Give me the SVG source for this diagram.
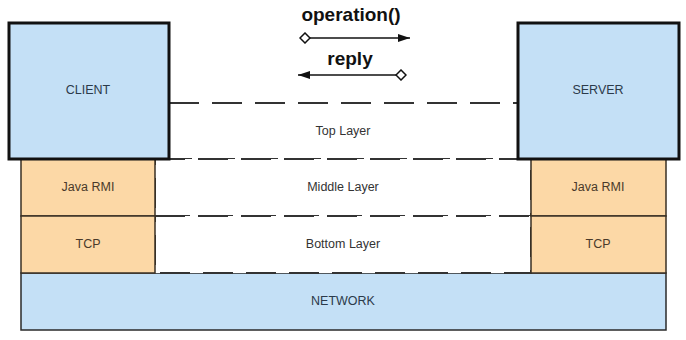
<svg xmlns="http://www.w3.org/2000/svg" width="686" height="340" viewBox="0 0 686 340">
<defs>
<style>
.blue{fill:#c4e0f6;}
.host{stroke:#111;stroke-width:3;}
.orange{fill:#fcd8a6;stroke:#3a3025;stroke-width:1.5;}
.net{fill:#c4e0f6;stroke:#2a2a2a;stroke-width:1.5;}
.layer{fill:#fff;stroke:#333;stroke-width:2;stroke-dasharray:30 13;}
.t{font-family:"Liberation Sans",Arial,sans-serif;font-size:12.5px;text-anchor:middle;}
.tb{fill:#2b3a4a;}
.to{fill:#4a3a2a;}
.tl{fill:#333;}
.h{font-family:"Liberation Sans",Arial,sans-serif;font-size:19px;font-weight:bold;text-anchor:middle;fill:#111;}
.msg{stroke:#111;stroke-width:1.5;fill:none;}
</style>
<marker id="arr" viewBox="0 0 12 8" refX="12" refY="4" markerWidth="12" markerHeight="8" markerUnits="userSpaceOnUse" orient="auto">
<path d="M0,0 L12,4 L0,8 Z" fill="#111"/>
</marker>
<marker id="dia" viewBox="0 0 12 12" refX="1" refY="6" markerWidth="12" markerHeight="12" markerUnits="userSpaceOnUse" orient="auto">
<path d="M1,6 L6,1 L11,6 L6,11 Z" fill="#fff" stroke="#111" stroke-width="1.5"/>
</marker>
</defs>
<rect width="686" height="340" fill="#fff"/>

<g id="network">
<rect class="net" x="21" y="273" width="645" height="57"/>
<text class="t tb" x="343" y="305">NETWORK</text>
</g>

<g id="top-layer">
<rect class="layer" x="169" y="103" width="349" height="56"/>
<text class="t tl" x="343" y="135">Top Layer</text>
</g>
<g id="middle-layer">
<rect class="layer" x="155" y="159" width="376" height="57"/>
<text class="t tl" x="343" y="191">Middle Layer</text>
</g>
<g id="bottom-layer">
<rect class="layer" x="155" y="216" width="376" height="57"/>
<text class="t tl" x="343" y="248">Bottom Layer</text>
</g>

<g id="client-rmi">
<rect class="orange" x="21" y="159" width="134" height="57"/>
<text class="t to" x="88" y="191">Java RMI</text>
</g>
<g id="client-tcp">
<rect class="orange" x="21" y="216" width="134" height="57"/>
<text class="t to" x="88" y="248">TCP</text>
</g>
<g id="server-rmi">
<rect class="orange" x="531" y="159" width="135" height="57"/>
<text class="t to" x="598" y="191">Java RMI</text>
</g>
<g id="server-tcp">
<rect class="orange" x="531" y="216" width="135" height="57"/>
<text class="t to" x="598" y="248">TCP</text>
</g>

<g id="client">
<rect class="blue host" x="9" y="23" width="160" height="136"/>
<text class="t tb" x="88" y="94">CLIENT</text>
</g>
<g id="server">
<rect class="blue host" x="518" y="23" width="161" height="136"/>
<text class="t tb" x="598" y="94">SERVER</text>
</g>

<g id="connectors">
<line class="msg" x1="300" y1="38" x2="410" y2="38" marker-start="url(#dia)" marker-end="url(#arr)"/>
<line class="msg" x1="406" y1="75" x2="298" y2="75" marker-start="url(#dia)" marker-end="url(#arr)"/>
</g>

<text class="h" x="351" y="21">operation()</text>
<text class="h" x="350" y="65">reply</text>
</svg>
